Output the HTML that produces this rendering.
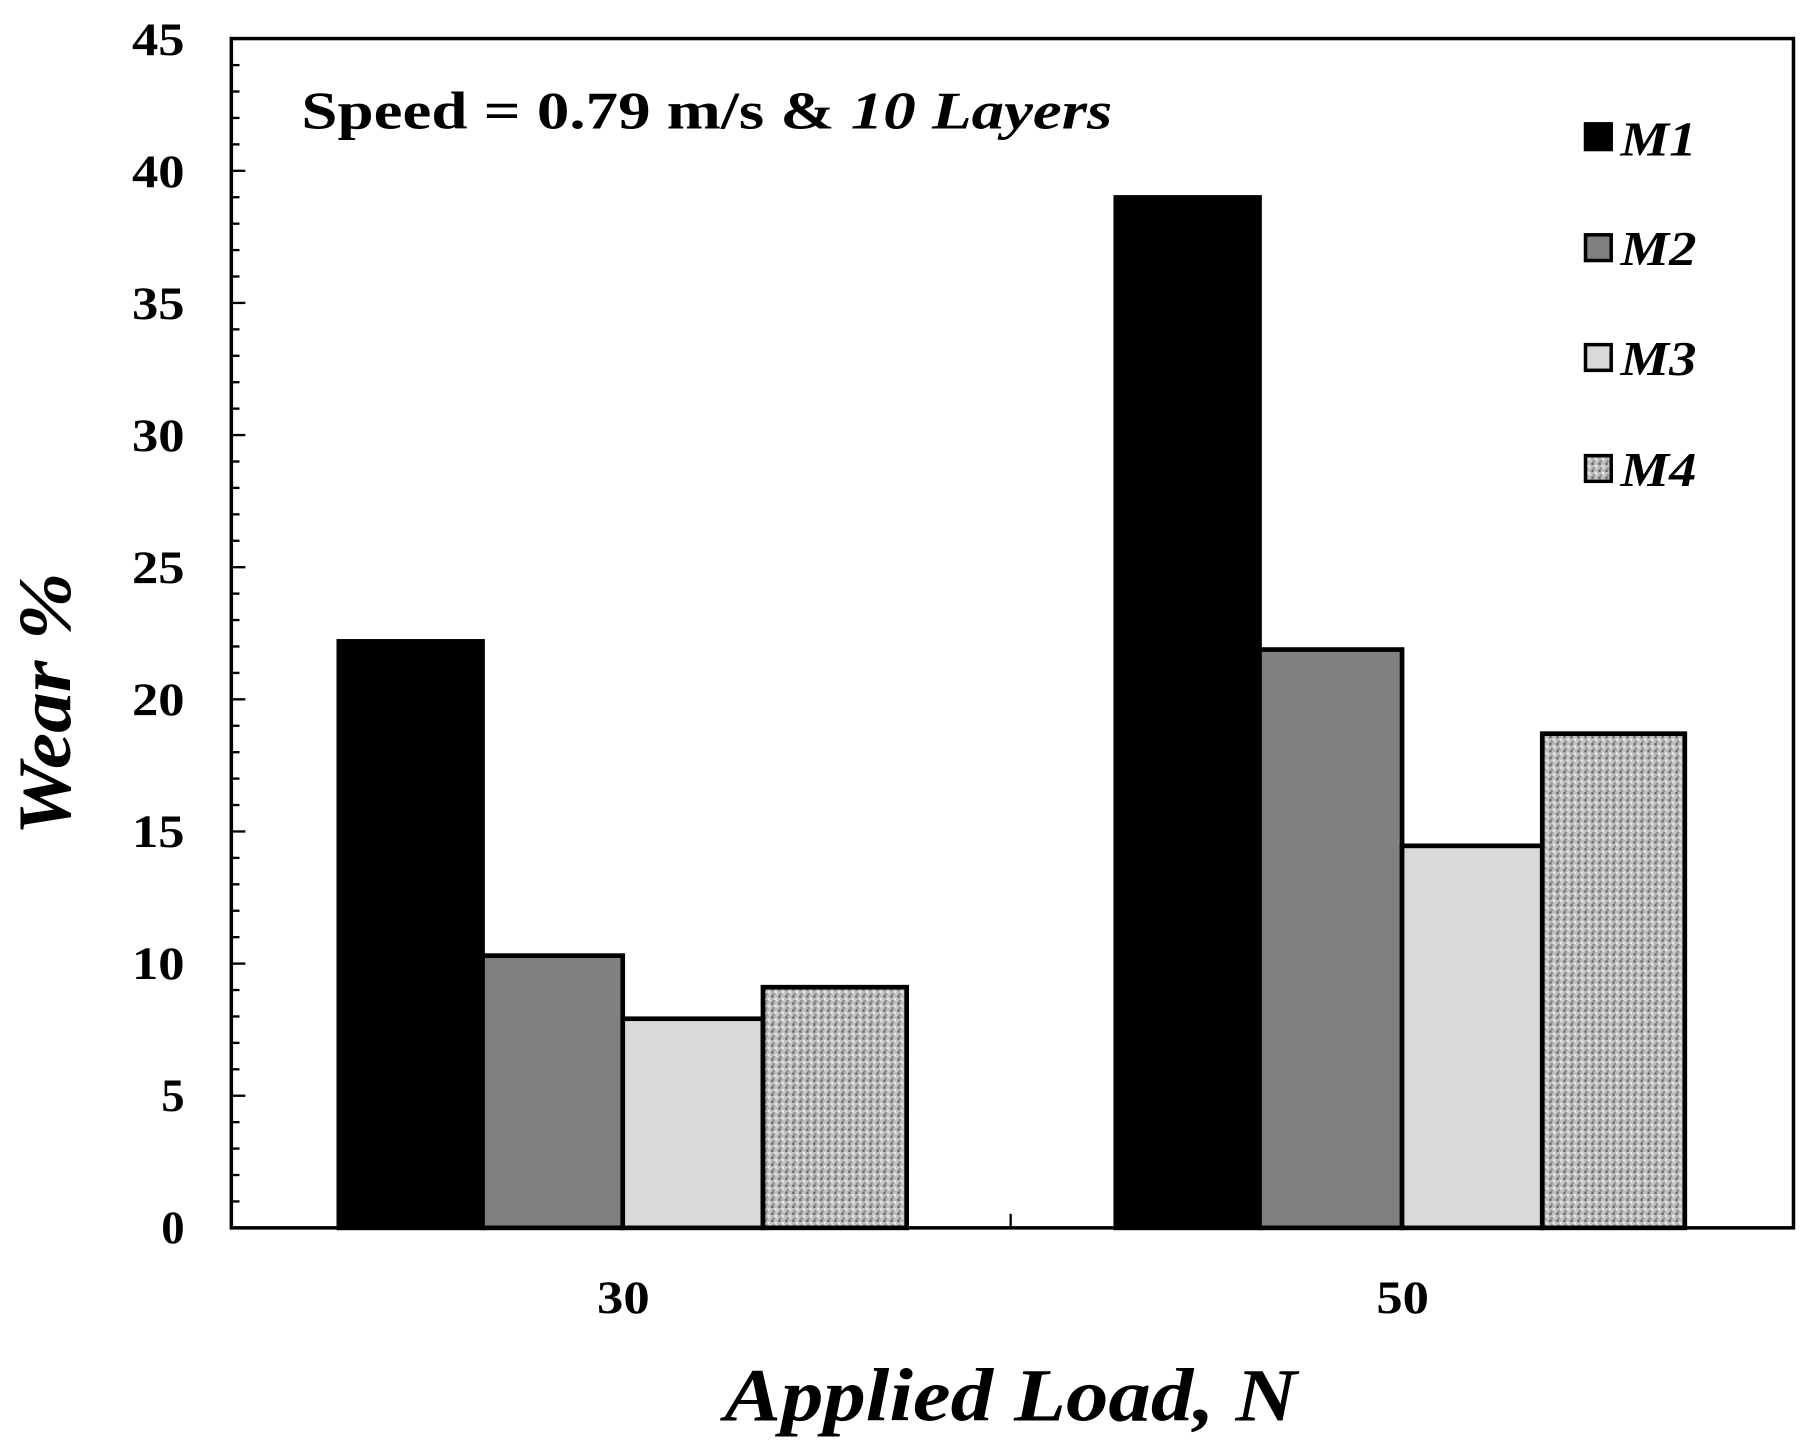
<!DOCTYPE html>
<html><head><style>html,body{margin:0;padding:0;background:#fff}svg{display:block}</style></head>
<body>
<svg width="1811" height="1451" viewBox="0 0 1550 1242" preserveAspectRatio="none" xmlns="http://www.w3.org/2000/svg" font-family="Liberation Serif, serif" font-weight="bold">
<defs>
<pattern id="spk" width="6" height="6" patternUnits="userSpaceOnUse">
<rect width="6" height="6" fill="#bdbdbd"/>
<rect x="0" y="0" width="2" height="2" fill="#6a6a6a"/>
<rect x="3" y="2" width="2" height="2" fill="#e8e8e8"/>
<rect x="1" y="4" width="2" height="2" fill="#8f8f8f"/>
<rect x="4" y="4" width="2" height="1" fill="#d8d8d8"/>
</pattern>
</defs>
<rect width="1550" height="1242" fill="#fff"/>
<g stroke="#000" stroke-width="4">
<rect x="290" y="549" width="123" height="502" fill="#000"/>
<rect x="413" y="818" width="120" height="233" fill="#808080"/>
<rect x="533" y="872" width="120" height="179" fill="#d9d9d9"/>
<rect x="653" y="845" width="123" height="206" fill="url(#spk)"/>
<rect x="955" y="169" width="123" height="882" fill="#000"/>
<rect x="1078" y="556" width="122" height="495" fill="#808080"/>
<rect x="1200" y="724" width="120" height="327" fill="#d9d9d9"/>
<rect x="1320" y="628" width="122" height="423" fill="url(#spk)"/>
</g>
<rect x="198" y="33" width="1337" height="1018" fill="none" stroke="#000" stroke-width="3"/>
<line x1="865" y1="1051" x2="865" y2="1039" stroke="#000" stroke-width="2"/>
<g stroke="#000" stroke-width="2" id="ticks"></g>
<g font-size="40" text-anchor="end">
<text x="158" y="1064">0</text><text x="158" y="951">5</text><text x="158" y="838" textLength="45" lengthAdjust="spacingAndGlyphs">10</text>
<text x="158" y="725" textLength="45" lengthAdjust="spacingAndGlyphs">15</text><text x="158" y="612" textLength="45" lengthAdjust="spacingAndGlyphs">20</text><text x="158" y="499" textLength="45" lengthAdjust="spacingAndGlyphs">25</text>
<text x="158" y="386" textLength="45" lengthAdjust="spacingAndGlyphs">30</text><text x="158" y="273" textLength="45" lengthAdjust="spacingAndGlyphs">35</text><text x="158" y="160" textLength="45" lengthAdjust="spacingAndGlyphs">40</text>
<text x="158" y="47" textLength="45" lengthAdjust="spacingAndGlyphs">45</text>
</g>
<g font-size="40"><text x="511" y="1124" textLength="45" lengthAdjust="spacingAndGlyphs">30</text><text x="1178" y="1124" textLength="45" lengthAdjust="spacingAndGlyphs">50</text></g>
<text x="258" y="110" font-size="45" textLength="694" lengthAdjust="spacingAndGlyphs">Speed = 0.79 m/s &amp; <tspan font-style="italic">10 Layers</tspan></text>
<g stroke="#000" stroke-width="3">
<rect x="1357" y="106" width="22" height="22" fill="#000"/>
<rect x="1357" y="201" width="22" height="22" fill="#808080"/>
<rect x="1357" y="295" width="22" height="22" fill="#d9d9d9"/>
<rect x="1357" y="390" width="22" height="22" fill="url(#spk)"/>
</g>
<g font-size="42" font-style="italic">
<text x="1387" y="133" textLength="65" lengthAdjust="spacingAndGlyphs">M1</text><text x="1387" y="227" textLength="65" lengthAdjust="spacingAndGlyphs">M2</text><text x="1387" y="321" textLength="65" lengthAdjust="spacingAndGlyphs">M3</text><text x="1387" y="416" textLength="65" lengthAdjust="spacingAndGlyphs">M4</text>
</g>
<text x="620" y="1216" font-size="64" font-style="italic" textLength="490" lengthAdjust="spacingAndGlyphs">Applied Load, N</text>
<text transform="translate(60,715) rotate(-90)" font-size="64" font-style="italic" textLength="225" lengthAdjust="spacingAndGlyphs">Wear %</text>
<script>
var g=document.getElementById('ticks');for(var i=1;i<45;i++){var y=1051-i*22.62;var l=document.createElementNS('http://www.w3.org/2000/svg','line');l.setAttribute('x1',198);l.setAttribute('x2',i%5?205:210);l.setAttribute('y1',y);l.setAttribute('y2',y);g.appendChild(l);}
</script>
</svg>
</body></html>
